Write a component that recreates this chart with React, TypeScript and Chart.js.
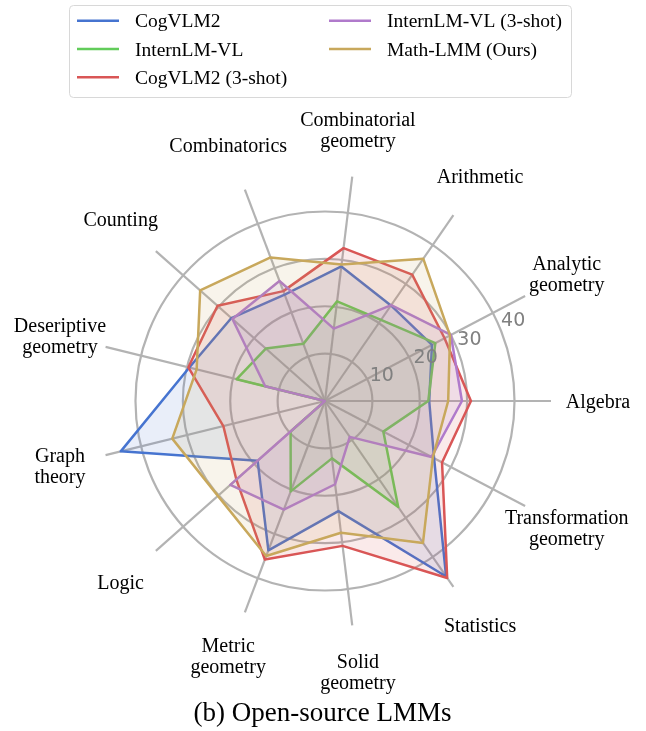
import React, { useEffect, useRef } from 'react';
import { Chart, registerables } from 'chart.js';

Chart.register(...registerables);

// ---- data (categories listed counter-clockwise, starting at the right) ----
const CATEGORIES = [
  'Algebra',
  'Analytic\ngeometry',
  'Arithmetic',
  'Combinatorial\ngeometry',
  'Combinatorics',
  'Counting',
  'Deseriptive\ngeometry',
  'Graph\ntheory',
  'Logic',
  'Metric\ngeometry',
  'Solid\ngeometry',
  'Statistics',
  'Transformation\ngeometry',
];

const SERIES_NAMES = [
  'CogVLM2',
  'InternLM-VL',
  'CogVLM2 (3-shot)',
  'InternLM-VL (3-shot)',
  'Math-LMM (Ours)',
];

const COGVLM2 = [22.0, 25.5, 24.5, 28.6, 24.0, 26.4, 29.5, 44.4, 19.0, 33.7, 23.4, 45.0, 26.0];
const INTERNLM_VL = [21.8, 26.3, 20.8, 21.2, 12.9, 16.7, 19.2, 0, 9.7, 20.4, 12.2, 27.2, 13.9];
const COGVLM2_3SHOT = [30.8, 28.5, 32.4, 32.5, 24.8, 30.3, 29.7, 22.1, 25.0, 35.8, 30.8, 45.4, 27.9];
const INTERNLM_VL_3SHOT = [28.9, 30.0, 24.6, 15.4, 27.1, 26.1, 13.0, 0, 26.7, 24.5, 17.7, 9.2, 25.4];
const MATH_LMM = [26.0, 29.8, 36.5, 29.0, 32.4, 35.2, 27.9, 33.2, 30.2, 35.0, 28.0, 36.4, 25.7];

const TICK_VALUES = [10, 20, 30, 40];
const R_MAX = 47.7;
const TITLE = '(b) Open-source LMMs';

// ---- styles ----
const COLORS = ['#4674d0', '#62cc5a', '#d95656', '#b07acb', '#c8a85c'];
const FILL_ALPHA = 0.12;
const GRID = '#b3b3b3';
const SERIF = '"Liberation Serif", "Times New Roman", serif';
const SANS = '"DejaVu Sans", sans-serif';

function hexToRgba(hex: string, a: number) {
  const n = parseInt(hex.slice(1), 16);
  return `rgba(${(n >> 16) & 255}, ${(n >> 8) & 255}, ${n & 255}, ${a})`;
}

// Chart.js goes clockwise; reorder so the picture runs counter-clockwise from the right
const CW_ORDER = CATEGORIES.map((_, i) => (CATEGORIES.length - i) % CATEGORIES.length);
const reorder = <T,>(arr: T[]) => CW_ORDER.map((i) => arr[i]);

const ALL_SERIES = [COGVLM2, INTERNLM_VL, COGVLM2_3SHOT, INTERNLM_VL_3SHOT, MATH_LMM];

const textPlugin = {
  id: 'customText',
  afterDatasetsDraw(chart: any) {
    const scale = chart.scales.r;
    const ctx = chart.ctx as CanvasRenderingContext2D;
    ctx.save();
    // radial tick labels at 22.5 degrees
    ctx.font = `19px ${SANS}`;
    ctx.fillStyle = '#808080';
    ctx.textAlign = 'left';
    ctx.textBaseline = 'alphabetic';
    const a = (22.5 * Math.PI) / 180;
    TICK_VALUES.forEach((v) => {
      const d = scale.getDistanceFromCenterForValue(v);
      ctx.fillText(String(v), scale.xCenter + d * Math.cos(a) + 1, scale.yCenter - d * Math.sin(a) - 2);
    });
    // category labels
    ctx.font = `20px ${SERIF}`;
    ctx.fillStyle = '#000';
    ctx.textAlign = 'center';
    (chart.data.labels as string[]).forEach((lab, i) => {
      const p = scale.getPointPosition(i, scale.drawingArea * 1.208);
      const lines = String(lab).split('\n');
      lines.forEach((ln, k) => {
        ctx.fillText(ln, p.x, p.y + 6.5 + (k - (lines.length - 1) / 2) * 21.3);
      });
    });
    ctx.restore();
  },
  afterDraw(chart: any) {
    const ctx = chart.ctx as CanvasRenderingContext2D;
    ctx.save();
    // legend box
    const bx = 69.5, by = 5.5, bw = 502, bh = 92, br = 4;
    ctx.beginPath();
    ctx.moveTo(bx + br, by);
    ctx.lineTo(bx + bw - br, by);
    ctx.quadraticCurveTo(bx + bw, by, bx + bw, by + br);
    ctx.lineTo(bx + bw, by + bh - br);
    ctx.quadraticCurveTo(bx + bw, by + bh, bx + bw - br, by + bh);
    ctx.lineTo(bx + br, by + bh);
    ctx.quadraticCurveTo(bx, by + bh, bx, by + bh - br);
    ctx.lineTo(bx, by + br);
    ctx.quadraticCurveTo(bx, by, bx + br, by);
    ctx.closePath();
    ctx.fillStyle = 'rgba(255,255,255,0.8)';
    ctx.fill();
    ctx.strokeStyle = '#d8d8d8';
    ctx.lineWidth = 1;
    ctx.stroke();

    const colX = [77, 329];
    const rowY = [20.7, 49, 77.3];
    ctx.font = `19.5px ${SERIF}`;
    ctx.textAlign = 'left';
    ctx.textBaseline = 'alphabetic';
    chart.data.datasets.forEach((ds: any, i: number) => {
      const col = i < 3 ? 0 : 1;
      const row = i < 3 ? i : i - 3;
      const x = colX[col];
      const y = rowY[row];
      ctx.strokeStyle = ds.borderColor;
      ctx.lineWidth = 2.5;
      ctx.beginPath();
      ctx.moveTo(x, y);
      ctx.lineTo(x + 42, y);
      ctx.stroke();
      ctx.fillStyle = '#000';
      ctx.fillText(ds.label, x + 58, y + 6.5);
    });

    // title
    ctx.font = `27px ${SERIF}`;
    ctx.textAlign = 'center';
    ctx.fillStyle = '#000';
    ctx.fillText(TITLE, 322.5, 721);
    ctx.restore();
  },
};

export default function App() {
  const ref = useRef<HTMLCanvasElement | null>(null);

  useEffect(() => {
    if (!ref.current) return;
    const n = SERIES_NAMES.length;
    const chart = new Chart(ref.current, {
      type: 'radar',
      data: {
        labels: reorder(CATEGORIES),
        datasets: SERIES_NAMES.map((name, i) => ({
          label: name,
          data: reorder(ALL_SERIES[i]),
          borderColor: COLORS[i],
          backgroundColor: hexToRgba(COLORS[i], FILL_ALPHA),
          borderWidth: 2.5,
          fill: true,
          pointRadius: 0,
          pointHoverRadius: 0,
          tension: 0,
          borderJoinStyle: 'round' as const,
          order: n - 1 - i,
        })),
      },
      options: {
        responsive: false,
        animation: false,
        events: [],
        layout: { padding: { left: 99, right: 95, top: 175, bottom: 104 } },
        plugins: {
          legend: { display: false },
          tooltip: { enabled: false },
          title: { display: false },
        },
        scales: {
          r: {
            min: 0,
            max: R_MAX,
            startAngle: 90,
            ticks: { display: false, stepSize: 10, includeBounds: false },
            pointLabels: { display: false },
            grid: { circular: true, color: GRID, lineWidth: 2.2 },
            angleLines: { display: true, color: GRID, lineWidth: 2.2 },
          },
        },
      },
      plugins: [textPlugin],
    });
    return () => chart.destroy();
  }, []);

  return (
    <div style={{ position: 'absolute', left: 0, top: 0, width: 646, height: 731, background: '#fff' }}>
      <canvas ref={ref} width={646} height={731} style={{ display: 'block', width: 646, height: 731 }} />
    </div>
  );
}
